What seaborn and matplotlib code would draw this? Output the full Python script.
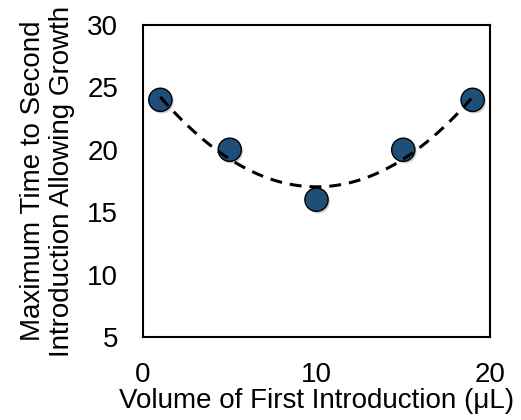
import matplotlib
matplotlib.use("Agg")
import matplotlib.pyplot as plt
import matplotlib.patheffects as pe
import seaborn as sns
import pandas as pd

volume = [1, 5, 10, 15, 19]
max_time = [24, 20, 16, 20, 24]
x_ticks = [0, 10, 20]
y_ticks = [5, 10, 15, 20, 25, 30]

sns.set_style("white")
plt.rcParams['font.family'] = ['Liberation Sans', 'DejaVu Sans']
plt.rcParams['text.color'] = 'black'
plt.rcParams['axes.labelcolor'] = 'black'

df = pd.DataFrame({"volume": volume, "time": max_time})

fig = plt.figure(figsize=(5.21, 4.20), dpi=100)
ax = fig.add_axes([0.2745, 0.1976, 0.666, 0.743])

sns.regplot(data=df, x="volume", y="time", order=2, ci=None, truncate=True, ax=ax,
            scatter_kws=dict(s=280, color="#1F4E79", edgecolor="black", linewidths=1.0, alpha=1, zorder=2),
            line_kws=dict(color="black", linestyle=(0, (3.9, 2.6)), linewidth=2.2, zorder=3))
ax.collections[0].set_path_effects([pe.SimplePatchShadow(offset=(1.2, -1.5), alpha=0.2), pe.Normal()])

ax.set_xlim(0, 20)
ax.set_ylim(5, 30)
ax.set_xticks(x_ticks)
ax.set_yticks(y_ticks)
ax.tick_params(direction="in", length=5, width=1.2, labelsize=20, colors="black", pad=18)
for s in ax.spines.values():
    s.set_color("black")
    s.set_linewidth(1.5)
ax.set_xlabel("Volume of First Introduction (μL)", fontsize=20, labelpad=0)
ax.set_ylabel("Maximum Time to Second\nIntroduction Allowing Growth", fontsize=20, labelpad=9,
              linespacing=1.15)

fig.savefig("out.png", dpi=100)
